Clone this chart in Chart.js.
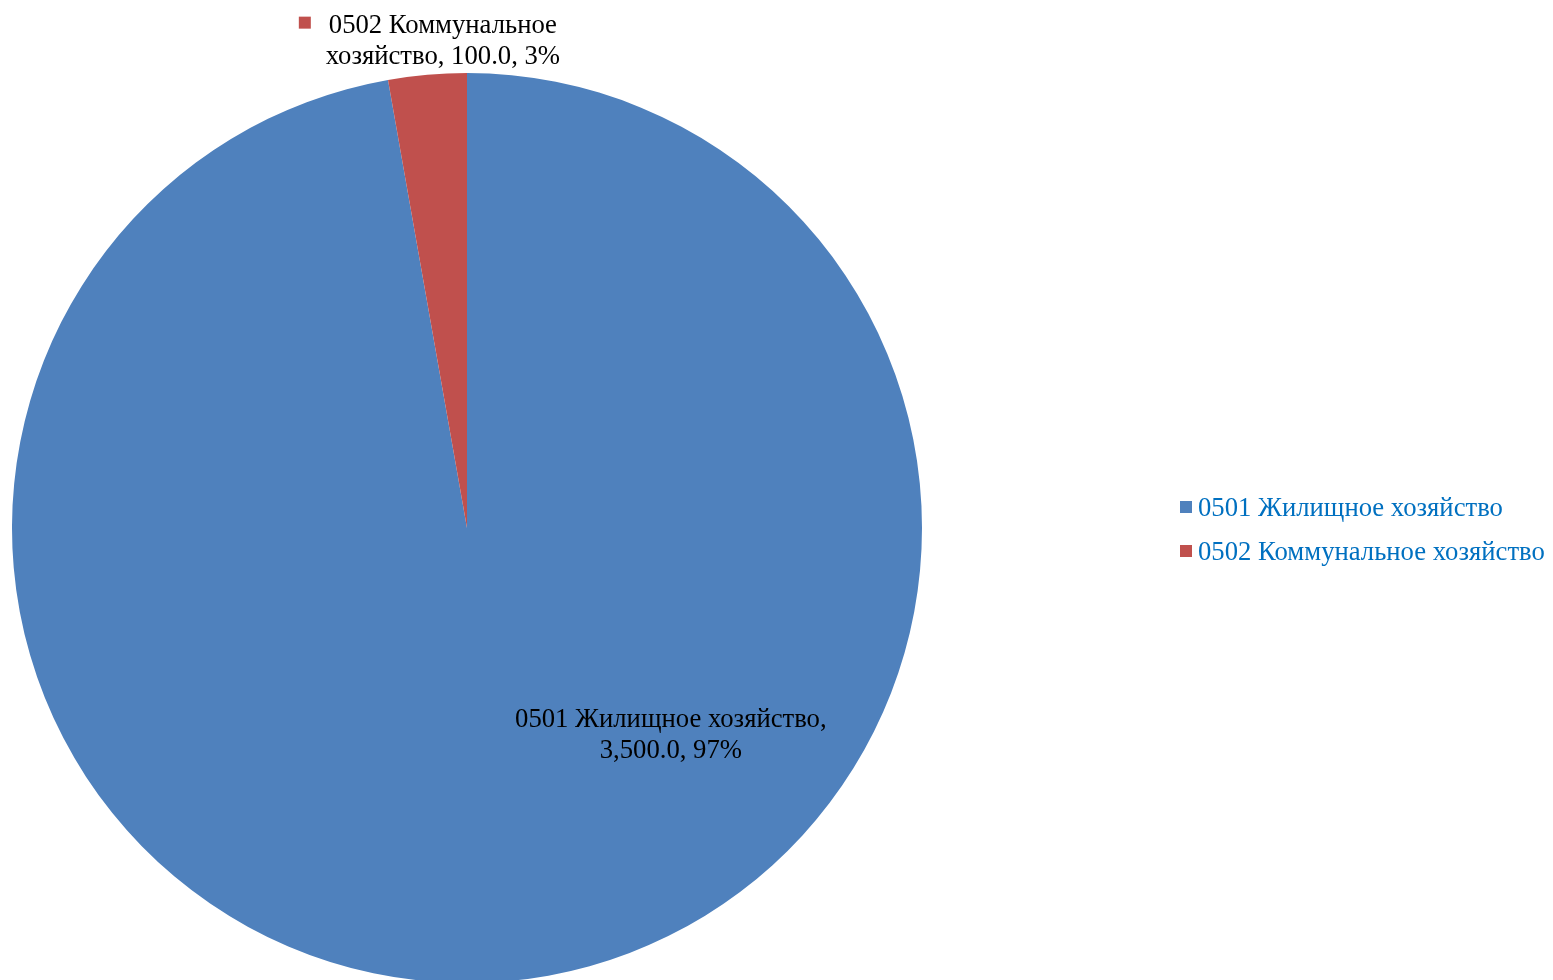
<!DOCTYPE html>
<html>
<head>
<meta charset="utf-8">
<script src="https://cdn.jsdelivr.net/npm/chart.js@4.4.1/dist/chart.umd.min.js"></script>
<style>
  html, body { margin: 0; padding: 0; background: #fff; overflow: hidden; }
  #wrap { width: 1553px; height: 990px; }
</style>
</head>
<body>
<div id="wrap"><canvas id="c"></canvas></div>
<script>
const categories = ['0501 Жилищное хозяйство', '0502 Коммунальное хозяйство'];
const values = [3500.0, 100.0];
const colors = ['#4F81BD', '#C0504D'];

const FONT = '26.7px "Liberation Serif", "Times New Roman", serif';
const LINE = 31;

// ярлыки данных: положение относительно центра в долях радиуса
const labelSpots = [
  { dx: 0.448, dy: 0.455, key: false },
  { dx: -0.053, dy: -1.070, key: true }
];

const fmt = v => v.toLocaleString('en-US', { minimumFractionDigits: 1, maximumFractionDigits: 1 });

const labelsPlugin = {
  id: 'sliceLabels',
  afterDatasetsDraw(chart) {
    const ctx = chart.ctx;
    const meta = chart.getDatasetMeta(0);
    const total = values.reduce((a, b) => a + b, 0);
    ctx.save();
    ctx.font = FONT;
    ctx.fillStyle = '#000';
    ctx.textAlign = 'center';
    ctx.textBaseline = 'middle';
    meta.data.forEach((arc, i) => {
      const r = arc.outerRadius;
      const x = arc.x + labelSpots[i].dx * r;
      const y = arc.y + labelSpots[i].dy * r;
      const pct = Math.round(values[i] / total * 100) + '%';
      let l1, l2;
      if (i === 0) {
        l1 = categories[i] + ',';
        l2 = fmt(values[i]) + ', ' + pct;
      } else {
        const parts = categories[i].split(' ');
        l1 = parts[0] + ' ' + parts[1];
        l2 = parts[2] + ', ' + fmt(values[i]) + ', ' + pct;
      }
      ctx.fillText(l1, x, y - LINE / 2);
      ctx.fillText(l2, x, y + LINE / 2);
      if (labelSpots[i].key) {
        const w = ctx.measureText(l1).width;
        ctx.fillStyle = colors[i];
        ctx.fillRect(x - w / 2 - 30, y - LINE / 2 - 9, 12, 12);
        ctx.fillStyle = '#000';
      }
    });
    ctx.restore();
  }
};

const legendPlugin = {
  id: 'sideLegend',
  afterDraw(chart) {
    const ctx = chart.ctx;
    ctx.save();
    ctx.font = FONT;
    ctx.textBaseline = 'middle';
    ctx.textAlign = 'left';
    const x0 = 1180, y0 = 509, step = 44;
    categories.forEach((c, i) => {
      const y = y0 + i * step;
      ctx.fillStyle = colors[i];
      ctx.fillRect(x0, y - 8, 12, 12);
      ctx.fillStyle = '#0070C0';
      ctx.fillText(c, x0 + 18, y);
    });
    ctx.restore();
  }
};

new Chart(document.getElementById('c'), {
  type: 'pie',
  data: {
    labels: categories,
    datasets: [{
      data: values,
      backgroundColor: colors,
      borderWidth: 0
    }]
  },
  options: {
    responsive: true,
    maintainAspectRatio: false,
    animation: false,
    layout: { padding: { left: 12, right: 631, top: 73, bottom: 7 } },
    plugins: {
      legend: { display: false },
      tooltip: { enabled: false }
    }
  },
  plugins: [labelsPlugin, legendPlugin]
});
</script>
</body>
</html>
